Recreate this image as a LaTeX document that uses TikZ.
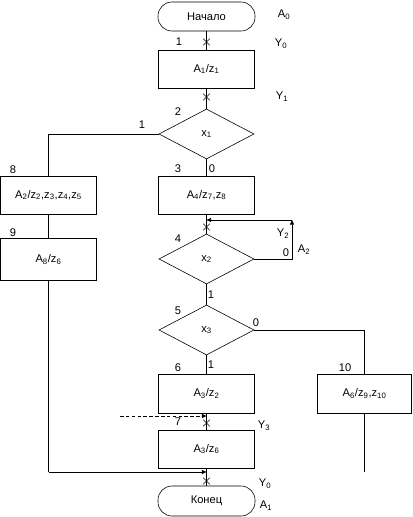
\documentclass[tikz,border=0pt]{standalone}
\usepackage{fontspec}
\setmainfont{Liberation Sans}
\usetikzlibrary{arrows.meta,shapes.geometric,shapes.misc}
\newcommand{\ix}[1]{\textsubscript{#1}}

\begin{document}
\begin{tikzpicture}[x=0.03cm, y=-0.03cm, >={Triangle[length=4pt,width=3.5pt]}, font=\fontsize{9.5}{11}\selectfont, line width=0.5pt]
\tikzstyle{blk}=[draw, minimum width=2.88cm, minimum height=1.14cm, inner sep=0pt]
\tikzstyle{cond}=[draw, diamond, minimum width=2.85cm, minimum height=1.5cm, inner sep=0pt]
\tikzstyle{term}=[draw, rounded corners=0.42cm, minimum width=2.91cm, minimum height=0.87cm, inner sep=0pt]
\tikzstyle{crs}=[draw, cross out, minimum size=0.18cm, inner sep=0pt]
\useasboundingbox (0,0) rectangle (412,517);
\node[term] (start) at (206.5,16.5) {Начало};
\node[blk] (b1) at (206.5,69) {A\ix{1}/z\ix{1}};
\node[cond] (d1) at (206.5,134) {x\ix{1}};
\node[blk] (b2) at (48.5,195) {A\ix{2}/z\ix{2},z\ix{3},z\ix{4},z\ix{5}};
\node[blk, minimum height=1.26cm] (b3) at (48.5,259.5) {A\ix{8}/z\ix{6}};
\node[blk] (b4) at (206.5,195) {A\ix{4}/z\ix{7},z\ix{8}};
\node[cond] (d2) at (206.5,259) {x\ix{2}};
\node[cond] (d3) at (206.5,330) {x\ix{3}};
\node[blk, minimum height=1.17cm] (b5) at (206.5,393.5) {A\ix{3}/z\ix{2}};
\node[blk, minimum width=2.82cm, minimum height=1.17cm] (b6) at (364.5,393.5) {A\ix{6}/z\ix{9},z\ix{10}};
\node[blk] (b7) at (206.5,449) {A\ix{3}/z\ix{6}};
\node[term, minimum height=0.9cm] (stop) at (206.5,501) {Конец};
\coordinate (ll) at (48.5,134);
\coordinate (lp) at (292,220);
\coordinate (jn) at (206.5,220);
\coordinate (lb) at (48.5,472);
\coordinate (mb) at (206.5,472);
\coordinate (rb) at (364.5,472);
\coordinate (dsh) at (120,416);
\coordinate (md) at (206.5,416);
\draw (start) -- (b1);
\draw (b1) -- (d1);
\draw (d1) -- (b4);
\draw (b4) -- (d2);
\draw (d2) -- (d3);
\draw (d3) -- (b5);
\draw (b5) -- (b7);
\draw (b7) -- (stop);
\draw (d1.west) -- (ll) -- (b2.north);
\draw (b2) -- (b3);
\draw (b3.south) -- (lb);
\draw[->] (lb) -- (mb);
\draw[->] (d2.east) -| (lp);
\draw[->] (lp) -- (jn);
\draw (d3.east) -| (b6.north);
\draw (b6.south) -- (rb);
\draw[->, dash pattern=on 3pt off 2pt] (dsh) -- (md);
\node[crs] (c0) at (206.5,42) {};
\node[crs] (c1) at (206.5,97) {};
\node[crs] (c2) at (206.5,227) {};
\node[crs] (c3) at (206.5,423) {};
\node[crs] (c4) at (206.5,481) {};
\node (a0) at (284,15) {A\ix{0}};
\node (y0) at (281,44) {Y\ix{0}};
\node (y1) at (282,97) {Y\ix{1}};
\node (n1) at (179,42) {1};
\node (n2) at (178,112) {2};
\node (e1) at (142,125) {1};
\node (n8) at (13,170) {8};
\node (n3) at (178,169) {3};
\node (e0) at (212,169) {0};
\node (n9) at (13,233) {9};
\node (n4) at (178,239) {4};
\node (y2) at (283,234) {Y\ix{2}};
\node (f0) at (286,253) {0};
\node (a2) at (304,250) {A\ix{2}};
\node (f1) at (211,295) {1};
\node (n5) at (178,311) {5};
\node (g0) at (256,323) {0};
\node (n6) at (178,368) {6};
\node (g1) at (211,365) {1};
\node (n10) at (345,368) {10};
\node (n7) at (178,422) {7};
\node (y3) at (264,426) {Y\ix{3}};
\node (y4) at (265,484) {Y\ix{0}};
\node (a1) at (266,506) {A\ix{1}};
\end{tikzpicture}
\end{document}
